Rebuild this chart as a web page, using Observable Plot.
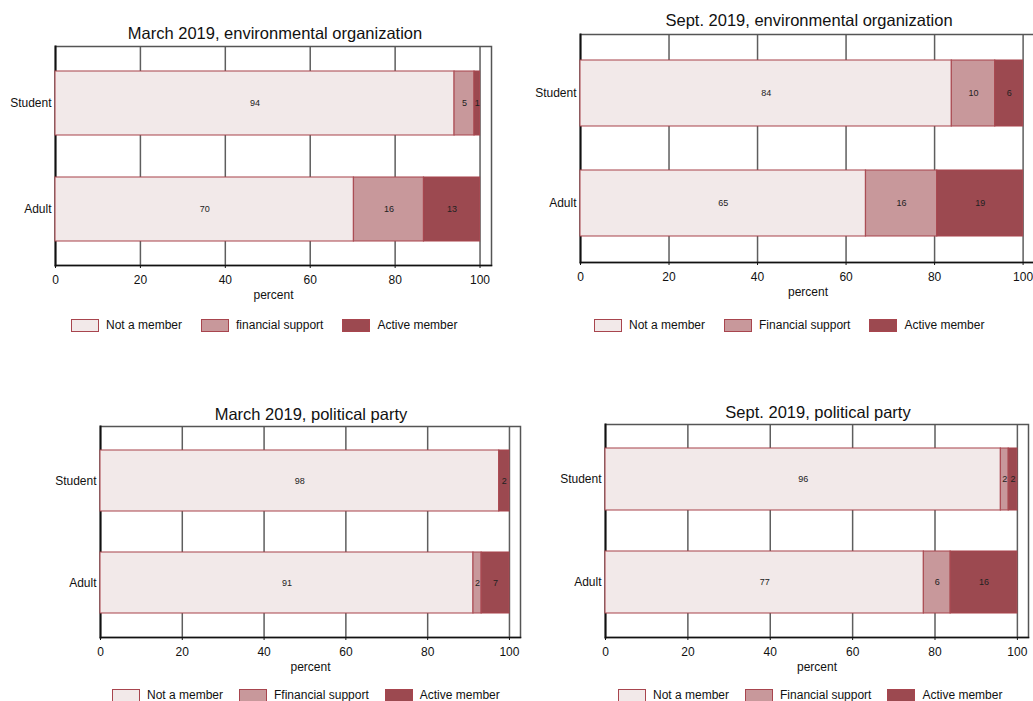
<!DOCTYPE html>
<html>
<head>
<meta charset="utf-8">
<script src="https://cdn.jsdelivr.net/npm/d3@7"></script>
<script src="https://cdn.jsdelivr.net/npm/@observablehq/plot@0.6"></script>
<style>
  html, body { margin: 0; padding: 0; background: #fff; overflow: hidden; }
  #root { position: relative; width: 1033px; height: 701px; font-family: "Liberation Sans", Arial, sans-serif; color: #111; }
  .title { position: absolute; transform: translate(-50%, -50%); font-size: 16.5px; white-space: nowrap; color: #111; }
  .legend { position: absolute; display: flex; align-items: center; font-size: 12px; white-space: nowrap; color: #111; }
  .legend .item { display: flex; align-items: center; }
  .legend .sw { width: 26px; height: 11px; border: 1px solid #a8454e; margin-right: 7px; }
  .panel { position: absolute; }
</style>
</head>
<body>
<div id="root"></div>
<script>
// ---- data ----
const groups = ["Student", "Adult"];
const categories = ["Not a member", "Financial support", "Active member"];
const colors = ["#f2e9e9", "#c8989b", "#9c4950"];

const titles = [
  "March 2019, environmental organization",
  "Sept. 2019, environmental organization",
  "March 2019, political party",
  "Sept. 2019, political party"
];
const legendLabels = [
  ["Not a member", "financial support", "Active member"],
  ["Not a member", "Financial support", "Active member"],
  ["Not a member", "Ffinancial support", "Active member"],
  ["Not a member", "Financial support", "Active member"]
];

// values per panel: [Student, Adult], each [not member, financial, active]
const envMarchStudent = [94.0, 4.7, 1.3];
const envMarchAdult   = [70.3, 16.5, 13.2];
const envSeptStudent  = [83.9, 9.8, 6.3];
const envSeptAdult    = [64.5, 16.1, 19.4];
const polMarchStudent = [97.5, 0, 2.5];
const polMarchAdult   = [91.2, 2.0, 6.8];
const polSeptStudent  = [96.0, 1.9, 2.1];
const polSeptAdult    = [77.3, 6.5, 16.2];

// printed labels
const envMarchStudentLbl = ["94", "5", "1"];
const envMarchAdultLbl   = ["70", "16", "13"];
const envSeptStudentLbl  = ["84", "10", "6"];
const envSeptAdultLbl    = ["65", "16", "19"];
const polMarchStudentLbl = ["98", "", "2"];
const polMarchAdultLbl   = ["91", "2", "7"];
const polSeptStudentLbl  = ["96", "2", "2"];
const polSeptAdultLbl    = ["77", "6", "16"];

const xTicks = [0, 20, 40, 60, 80, 100];
const gridTicks = [20, 40, 60, 80, 100];

const panelData = [
  [[envMarchStudent, envMarchStudentLbl], [envMarchAdult, envMarchAdultLbl]],
  [[envSeptStudent, envSeptStudentLbl], [envSeptAdult, envSeptAdultLbl]],
  [[polMarchStudent, polMarchStudentLbl], [polMarchAdult, polMarchAdultLbl]],
  [[polSeptStudent, polSeptStudentLbl], [polSeptAdult, polSeptAdultLbl]]
];

// ---- layout ----
const layouts = [
  {left: 0,   top: 0,   width: 501, height: 305, mL: 55, mT: 46, mR: 10, xMax: 102.7,
   title: [275, 33], legend: [71, 318], gap: 19},
  {left: 516, top: 0,   width: 520, height: 302, mL: 64, mT: 34, mR: 1,  xMax: 102.8,
   title: [809, 20], legend: [594, 318], gap: 19},
  {left: 0,   top: 390, width: 530, height: 287, mL: 100, mT: 36, mR: 10, xMax: 102.7,
   title: [311, 414], legend: [112, 688], gap: 16},
  {left: 516, top: 390, width: 517, height: 287, mL: 89, mT: 34, mR: 5,  xMax: 102.7,
   title: [818, 412], legend: [618, 688], gap: 16}
];

const root = document.getElementById("root");

layouts.forEach((L, i) => {
  const rows = [];
  groups.forEach((g, gi) => {
    const [vals, lbls] = panelData[i][gi];
    categories.forEach((c, ci) => rows.push({group: g, cat: c, value: vals[ci], label: lbls[ci]}));
  });

  const plot = Plot.plot({
    width: L.width,
    height: L.height,
    marginLeft: L.mL,
    marginTop: L.mT,
    marginRight: L.mR,
    marginBottom: 40,
    style: {fontFamily: "'Liberation Sans', Arial, sans-serif", fontSize: "12px", color: "#111", background: "transparent", overflow: "visible"},
    x: {domain: [0, L.xMax]},
    y: {domain: groups, paddingInner: 0.4, paddingOuter: 0.23},
    color: {domain: categories, range: colors},
    marks: [
      Plot.ruleX(gridTicks, {stroke: "#5e5e5e", strokeWidth: 1.5}),
      Plot.frame({stroke: "#555", strokeWidth: 1.5}),
      Plot.frame({anchor: "bottom", stroke: "#111", strokeWidth: 1.5}),
      Plot.frame({anchor: "left", stroke: "#111", strokeWidth: 2}),
      Plot.barX(rows, {x: "value", y: "group", fill: "cat", stroke: "#a8454e", strokeWidth: 1.2, strokeOpacity: 0.85}),
      Plot.text(rows, Plot.stackX({x: "value", y: "group", z: "cat", text: "label", fontSize: 9, fill: "#222"})),
      Plot.axisX({ticks: xTicks, tickSize: 3, tickPadding: 7, label: null, fontSize: 12}),
      Plot.axisY({tickSize: 0, tickPadding: 4, label: null, fontSize: 12}),
      Plot.text(["percent"], {frameAnchor: "bottom", lineAnchor: "middle", dy: 30, fontSize: 12, fill: "#111"})
    ]
  });
  plot.classList.add("panel");
  plot.style.left = L.left + "px";
  plot.style.top = L.top + "px";
  plot.style.position = "absolute";
  root.appendChild(plot);

  const t = document.createElement("div");
  t.className = "title";
  t.textContent = titles[i];
  t.style.left = L.title[0] + "px";
  t.style.top = L.title[1] + "px";
  root.appendChild(t);

  const lg = document.createElement("div");
  lg.className = "legend";
  lg.style.left = L.legend[0] + "px";
  lg.style.top = L.legend[1] + "px";
  legendLabels[i].forEach((lab, k) => {
    const it = document.createElement("div");
    it.className = "item";
    if (k > 0) it.style.marginLeft = L.gap + "px";
    const sw = document.createElement("div");
    sw.className = "sw";
    sw.style.background = colors[k];
    const tx = document.createElement("span");
    tx.textContent = lab;
    it.appendChild(sw);
    it.appendChild(tx);
    lg.appendChild(it);
  });
  root.appendChild(lg);
});
</script>
</body>
</html>
